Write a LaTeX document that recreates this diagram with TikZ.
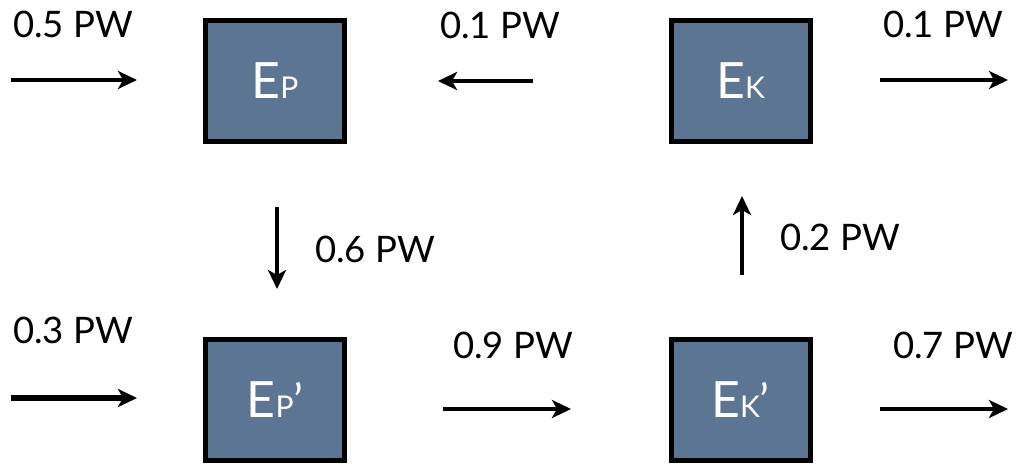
\documentclass[tikz,border=0pt]{standalone}
\usepackage{fontspec}
\setmainfont{Lato}
\usetikzlibrary{arrows.meta}
\definecolor{boxfill}{RGB}{92,117,146}
\newcommand\elbl[2]{{\fontsize{50}{50}\selectfont E}{\fontsize{30}{30}\selectfont #1}{\fontsize{46}{46}\selectfont #2}}
\begin{document}
\begin{tikzpicture}[x=1pt,y=-1pt,
  box/.style={draw=black,line width=5pt,fill=boxfill,minimum width=139pt,minimum height=121pt,inner sep=0pt,text=white},
  flow/.style={line width=3.5pt,-{Stealth[length=19pt,width=18pt,inset=5pt]}},
  lbl/.style={anchor=base west,inner sep=0pt,font=\fontsize{36.5}{36.5}\selectfont}]
\useasboundingbox (0,0) rectangle (1022,463);
% boxes
\node[box] (ep)  at (275,81)   {\elbl{P}{}};
\node[box] (ek)  at (740.5,81) {\elbl{K}{}};
\node[box] (epp) at (275,400)  {\elbl{P}{’}};
\node[box] (ekp) at (740.5,400){\elbl{K}{’}};
% arrow end points
\coordinate (a1s) at (11,80);   \coordinate (a1e) at (137,80);
\coordinate (a2s) at (533,81);  \coordinate (a2e) at (438,81);
\coordinate (a3s) at (880,80);  \coordinate (a3e) at (1008,80);
\coordinate (a4s) at (277,207); \coordinate (a4e) at (277,289);
\coordinate (a5s) at (742,275); \coordinate (a5e) at (742,196);
\coordinate (a6s) at (11,398);  \coordinate (a6e) at (137,398);
\coordinate (a7s) at (443,409); \coordinate (a7e) at (571,409);
\coordinate (a8s) at (880,409); \coordinate (a8e) at (1008,409);
% arrows
\draw[flow,line width=4.2pt] (a1s) -- (a1e);
\draw[flow] (a2s) -- (a2e);
\draw[flow,line width=4.2pt] (a3s) -- (a3e);
\draw[flow] (a4s) -- (a4e);
\draw[flow] (a5s) -- (a5e);
\draw[flow,line width=6pt] (a6s) -- (a6e);
\draw[flow,line width=4.2pt] (a7s) -- (a7e);
\draw[flow,line width=4.2pt] (a8s) -- (a8e);
% labels
\node[lbl] (l1) at (13,37)  {0.5 PW};
\node[lbl] (l2) at (440,38) {0.1 PW};
\node[lbl] (l3) at (883,37) {0.1 PW};
\node[lbl] (l4) at (315,262){0.6 PW};
\node[lbl] (l5) at (780,250){0.2 PW};
\node[lbl] (l6) at (13,343) {0.3 PW};
\node[lbl] (l7) at (453,358){0.9 PW};
\node[lbl] (l8) at (893,358){0.7 PW};
\end{tikzpicture}
\end{document}
